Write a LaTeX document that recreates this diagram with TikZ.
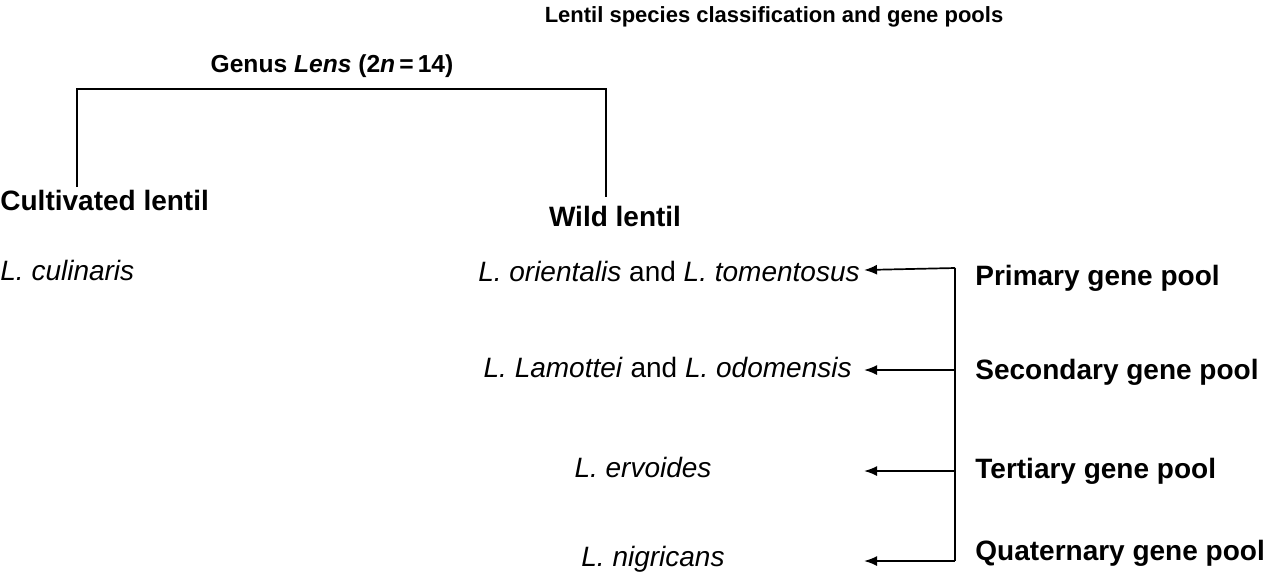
\documentclass[tikz,border=0pt]{standalone}
\usepackage{fontspec}
\setmainfont{Liberation Sans}
\usetikzlibrary{arrows.meta}
\begin{document}
\begin{tikzpicture}[x=0.5pt,y=-0.5pt,
  lbl/.style={inner sep=0pt,font=\fontsize{14pt}{16pt}\selectfont\bfseries},
  sp/.style={inner sep=0pt,font=\fontsize{14pt}{16pt}\selectfont\itshape},
  ttl/.style={inner sep=0pt,font=\fontsize{11pt}{13pt}\selectfont\bfseries},
  gen/.style={inner sep=0pt,font=\fontsize{12.3pt}{14pt}\selectfont\bfseries},
  ln/.style={line width=0.85pt,black},
  arr/.style={ln,-{Latex[length=6.5pt,width=5pt]}}]
\useasboundingbox (0,0) rectangle (1267,575);
\node[ttl] (title) at (774,17) {Lentil species classification and gene pools};
\node[gen] (genus) at (332,66) {Genus \textit{Lens} (2\textit{n}\,=\,14)};
\node[lbl,anchor=west] (cult) at (0,200) {Cultivated lentil};
\node[lbl] (wild) at (615,216) {Wild lentil};
\node[sp,anchor=west] (culin) at (0,270) {L. culinaris};
\node[sp,anchor=east] (orient) at (860,271) {L. orientalis\/ \upshape and \itshape L. tomentosus};
\node[sp,anchor=east] (lamot) at (852,367) {L. Lamottei\/ \upshape and \itshape L. odomensis};
\node[sp] (ervo) at (643,467) {L. ervoides};
\node[sp] (nigr) at (653,559) {L. nigricans};
\node[lbl,anchor=west] (gp1) at (975,278) {Primary gene pool};
\node[lbl,anchor=west] (gp2) at (975,372) {Secondary gene pool};
\node[lbl,anchor=west] (gp3) at (975,471) {Tertiary gene pool};
\node[lbl,anchor=west] (gp4) at (975,553) {Quaternary gene pool};
% bracket
\coordinate (bl) at (77,187);
\coordinate (br) at (606,197);
\draw[ln] (bl) -- (77,89) -- (606,89) -- (br);
% spine and arrows
\coordinate (s1) at (955,268);
\coordinate (s2) at (955,370);
\coordinate (s3) at (955,471);
\coordinate (s4) at (955,561);
\coordinate (t1) at (864,270);
\coordinate (t2) at (864,370);
\coordinate (t3) at (864,471);
\coordinate (t4) at (864,561);
\draw[ln] (s1) -- (s4);
\draw[arr] (s1) -- (t1);
\draw[arr] (s2) -- (t2);
\draw[arr] (s3) -- (t3);
\draw[arr] (s4) -- (t4);
\end{tikzpicture}
\end{document}
